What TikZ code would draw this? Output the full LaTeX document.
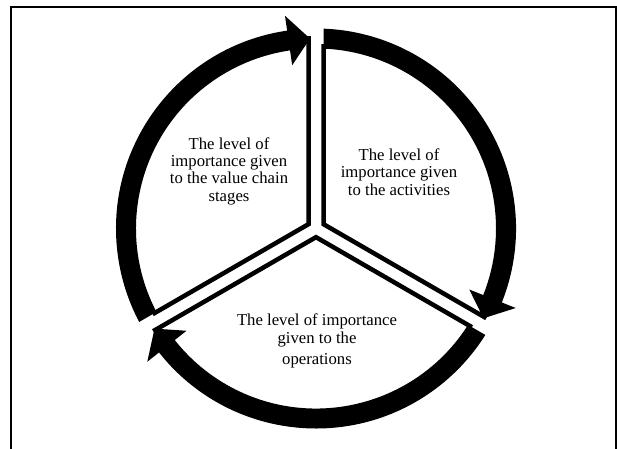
\documentclass[tikz,border=0pt]{standalone}
\usepackage{fontspec}
\setmainfont{Liberation Serif}
\usetikzlibrary{calc}
\begin{document}
\begin{tikzpicture}[x=1pt,y=1pt,
  lbl/.style={align=center, font=\fontsize{16.7}{17.3}\selectfont, inner sep=0pt},
  divider/.style={line width=4.5pt, line join=miter},
  frame/.style={line width=2pt}]
\useasboundingbox (0,0) rectangle (617,-448);
\clip (0,0) rectangle (617,-448);
\draw[frame] (11.2,-6.5) rectangle (615.8,-470);
\begin{scope}[shift={(316,-228.5)}]
  \foreach \a in {90,-30,210}{
    \pgfmathsetmacro\bis{\a+60}
    \pgfmathsetmacro\aend{\a+120}
    \pgfmathsetmacro\tail{\a+125}
    \pgfmathsetmacro\back{\a+8.3}
    \pgfmathsetmacro\tip{\a+1.8}
    \coordinate (c) at (\bis:8.66);
    % wedge outline
    \draw[divider] ($(c)+(\a:188)$) -- (c) -- ($(c)+(\aend:180)$);
    % arrow clipped to its wedge
    \begin{scope}
      \clip (c) -- ($(c)+(\a:500)$) -- ($(c)+(\bis:700)$) -- ($(c)+(\aend:500)$) -- cycle;
      \fill (\tail:180) arc[start angle=\tail, end angle=\back, radius=180]
        -- (\back:165) -- (\tip:190) -- (\back:215) -- (\back:200)
        arc[start angle=\back, end angle=\tail, radius=200] -- cycle;
    \end{scope}
  }
\end{scope}
\node[lbl] (tA) at (229,-171) {The level of\\importance given\\to the value chain\\stages};
\node[lbl] (tB) at (399,-172) {The level of\\importance given\\to the activities};
\node[lbl] (tC) at (317,-341) {The level of importance\\given to the\\[4pt]operations};
\end{tikzpicture}
\end{document}
